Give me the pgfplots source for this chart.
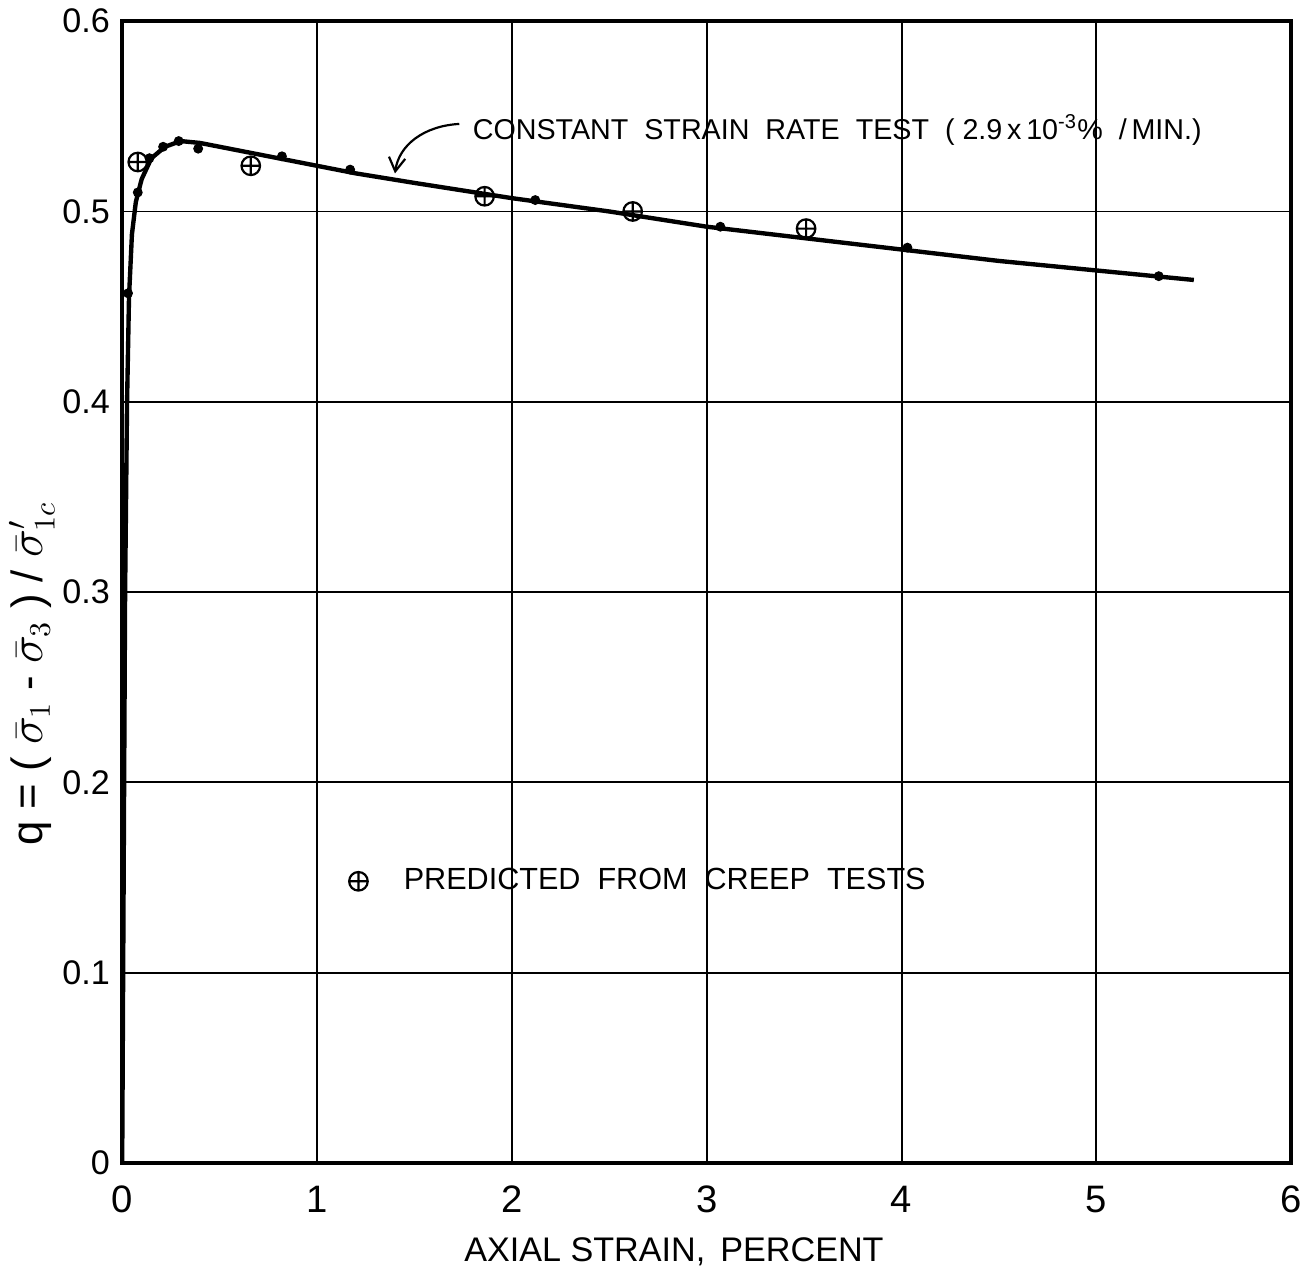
\documentclass[border=0pt]{standalone}
\usepackage{fontspec}
\setmainfont{Liberation Sans}
\usepackage{pgfplots}
\pgfplotsset{compat=1.18}
\usetikzlibrary{arrows.meta}

\begin{document}
\begin{tikzpicture}
\begin{axis}[
    scale only axis,
    width=428pt, height=418pt,
    xmin=0, xmax=6,
    ymin=0, ymax=0.6,
    xtick={0,1,...,6},
    ytick={0,0.1,...,0.6},
    yticklabel style={/pgf/number format/fixed, /pgf/number format/precision=1},
    /pgf/number format/assume math mode=true,
    grid=major,
    major grid style={black, line width=0.7pt},
    axis line style={black, line width=1.6pt},
    tick style={draw=none},
    x tick label style={font=\fontsize{14}{14}\selectfont, yshift=-5pt},
    y tick label style={font=\fontsize{12.5}{12.5}\selectfont, xshift=-1pt},
    xlabel={AXIAL STRAIN,\, PERCENT},
    xlabel style={font=\fontsize{12.5}{12.5}\selectfont, yshift=-2pt, xshift=-12pt},
    ylabel={q = ( $\bar{\sigma}_{1}$ - $\bar{\sigma}_{3}$ ) / $\bar{\sigma}'_{1c}$},
    ylabel style={font=\fontsize{16}{16}\selectfont, yshift=-4pt, xshift=-30pt},
    legend style={at={(axis cs:1.12,0.148)}, anchor=west, draw=none, fill=none,
        font=\fontsize{11.2}{11.2}\selectfont, row sep=0pt},
    legend cell align=left,
    clip=false,
]
% fitted curve (drawn by hand on the original)
\addplot[black, line width=1.6pt, forget plot] coordinates {
    (0,0) (0.015,0.30) (0.025,0.40) (0.035,0.455) (0.05,0.488) (0.07,0.505)
    (0.10,0.517) (0.15,0.528) (0.22,0.534) (0.30,0.537) (0.40,0.536)
    (0.60,0.532) (0.80,0.528) (1.00,0.524) (1.20,0.520) (1.50,0.515)
    (2.00,0.507) (2.50,0.500) (3.00,0.492) (3.50,0.486) (4.00,0.480)
    (4.50,0.474) (5.00,0.469) (5.50,0.464)
};
% constant strain rate test points
\addplot[only marks, mark=*, mark size=1.6pt, black, forget plot] coordinates {
    (0.03,0.457) (0.08,0.510) (0.14,0.528) (0.21,0.534) (0.29,0.537)
    (0.39,0.533) (0.82,0.529) (1.17,0.522) (2.12,0.506) (3.07,0.492)
    (4.03,0.481) (5.32,0.466)
};
% predicted from creep tests
\addplot[only marks, mark=oplus, mark size=3.4pt, black, thick] coordinates {
    (0.08,0.526) (0.66,0.524) (1.86,0.508) (2.62,0.500) (3.51,0.491)
};
\addlegendentry{\quad PREDICTED\ \ FROM\ \ CREEP\ \ TESTS}

\node[anchor=west, font=\fontsize{10.5}{10.5}\selectfont] at (axis cs:1.75,0.543)
    {CONSTANT\ \ STRAIN\ \ RATE\ \ TEST\ \ ( 2.9\,x\,10\textsuperscript{-3}\% \ /\,MIN.)};
\draw[line width=0.8pt, -{Straight Barb[length=5pt, width=6pt]}]
    (axis cs:1.73,0.546) .. controls (axis cs:1.55,0.545) and (axis cs:1.42,0.535) .. (axis cs:1.40,0.520);
\end{axis}
\end{tikzpicture}
\end{document}
